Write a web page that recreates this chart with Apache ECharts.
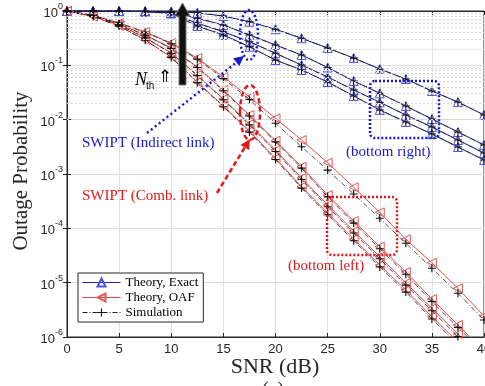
<!DOCTYPE html>
<html><head><meta charset="utf-8">
<script src="https://cdn.jsdelivr.net/npm/echarts@6/dist/echarts.min.js"></script>
<style>html,body{margin:0;padding:0;background:#fff}#c{width:485px;height:386px}</style>
</head><body><div id="c"></div>
<script>
// SNR grid (dB)
const snr = [0,2.5,5,7.5,10,12.5,15,17.5,20,22.5,25,27.5,30,32.5,35,37.5,40];
const xTicks = [0,5,10,15,20,25,30,35,40];
const legendNames = ['Theory, Exact','Theory, OAF','Simulation'];

// SWIPT indirect link, theory exact (4 values of N_th)
const exact1 = [1,0.999,0.998,0.99,0.979,0.927,0.809,0.635,0.461,0.315,0.208,0.136,0.0856,0.056,0.0337,0.0211,0.0122];
const exact2 = [1,0.999,0.997,0.985,0.946,0.734,0.552,0.362,0.237,0.155,0.0912,0.0515,0.0306,0.0178,0.0103,0.00593,0.00342];
const exact3 = [1,0.999,0.996,0.98,0.919,0.594,0.416,0.272,0.167,0.101,0.061,0.0352,0.0209,0.0122,0.00733,0.00422,0.00243];
const exact4 = [1,0.999,0.995,0.975,0.9,0.53,0.362,0.22,0.125,0.082,0.0493,0.0273,0.0151,0.00906,0.00545,0.00314,0.00181];

// SWIPT combined link, theory OAF
const oaf1 = [1,0.844,0.601,0.411,0.258,0.136,0.061,0.0261,0.0106,0.00422,0.00161,5.69e-4,1.97e-4,6.28e-5,2.33e-5,7.87e-6,2.43e-6];
const oaf2 = [1,0.826,0.576,0.3616,0.2084,0.0932,0.0351,0.01218,0.0041,0.00136,4.1e-4,1.36e-4,4.59e-5,1.57e-5,5.0e-6,1.66e-6,5.52e-7];
const oaf3 = [1,0.809,0.5525,0.3252,0.1686,0.0664,0.024,0.00832,0.00276,8.44e-4,2.69e-4,8.92e-5,3.0e-5,9.86e-6,3.37e-6,1.135e-6,3.77e-7];
const oaf4 = [1,0.792,0.53,0.2925,0.1423,0.0493,0.01784,0.00618,0.00195,5.83e-4,1.91e-4,6.36e-5,2.11e-5,7.33e-6,2.36e-6,8.09e-7,2.69e-7];

// Simulation
const simIndirect1 = [1,0.999,0.998,0.99,0.979,0.927,0.809,0.635,0.461,0.315,0.208,0.136,0.0856,0.056,0.0337,0.0211,0.0122];
const simIndirect2 = [1,0.999,0.997,0.985,0.946,0.734,0.552,0.362,0.237,0.155,0.0912,0.0515,0.0306,0.0178,0.0103,0.00593,0.00342];
const simIndirect3 = [1,0.999,0.996,0.98,0.919,0.594,0.416,0.272,0.167,0.101,0.061,0.0352,0.0209,0.0122,0.00733,0.00422,0.00243];
const simIndirect4 = [1,0.999,0.995,0.975,0.9,0.53,0.362,0.22,0.125,0.082,0.0493,0.0273,0.0151,0.00906,0.00545,0.00314,0.00181];
const simComb1 = [1,0.84,0.598,0.405,0.25,0.13,0.057,0.0235,0.00857,0.00318,0.00118,4.28e-4,1.53e-4,5.3e-5,1.84e-5,6.37e-6,2.06e-6];
const simComb2 = [1,0.826,0.574,0.358,0.205,0.091,0.034,0.0117,0.0039,0.00128,3.8e-4,1.25e-4,4.2e-5,1.43e-5,4.5e-6,1.5e-6,5.0e-7];
const simComb3 = [1,0.809,0.55,0.322,0.166,0.065,0.0233,0.008,0.0026,7.9e-4,2.5e-4,8.2e-5,2.75e-5,9.0e-6,3.05e-6,1.02e-6,3.4e-7];
const simComb4 = [1,0.792,0.528,0.29,0.14,0.048,0.0173,0.0059,0.00185,5.5e-4,1.78e-4,5.9e-5,1.95e-5,6.7e-6,2.15e-6,7.3e-7,2.4e-7];

const BLUE_LINE = '#22229e', BLUE_MK = '#5252d8';
const RED_LINE = '#e24848', RED_MK = '#e25a5a';
const PLUS = 'path://M-1.4,-10H1.4V-1.4H10V1.4H1.4V10H-1.4V1.4H-10V-1.4H-1.4Z';

function toPts(vals){ return snr.map((x,i)=>[x, vals[i]]); }
function exactSeries(vals){
  return {type:'line', name:legendNames[0], data:toPts(vals), symbol:'triangle', symbolSize:9,
    itemStyle:{color:'rgba(255,255,255,0)', borderColor:BLUE_MK, borderWidth:1},
    lineStyle:{color:BLUE_LINE, width:1}, z:3, emphasis:{disabled:true}};
}
function oafSeries(vals){
  return {type:'line', name:legendNames[1], data:toPts(vals), symbol:'triangle', symbolSize:9, symbolRotate:90,
    itemStyle:{color:'rgba(255,255,255,0)', borderColor:RED_MK, borderWidth:1},
    lineStyle:{color:RED_LINE, width:1}, z:3, emphasis:{disabled:true}};
}
function simSeries(vals){
  return {type:'line', name:legendNames[2], data:toPts(vals), symbol:PLUS, symbolSize:8,
    itemStyle:{color:'#111'},
    lineStyle:{color:'#222', width:0.8, type:[5,2,1,2]}, z:4, emphasis:{disabled:true}};
}

const minorVals = [];
for (let k=-6;k<0;k++){ for (let m=2;m<=9;m++){ minorVals.push(m*Math.pow(10,k)); } }

const series = [
  {type:'line', name:'minor', data:[], z:1, silent:true,
   markLine:{silent:true, animation:false, symbol:['none','none'], label:{show:false},
     lineStyle:{color:'#d6d6d6', type:[2,2], width:1}, emphasis:{disabled:true},
     data: minorVals.map(v=>({yAxis:v}))}},
  exactSeries(exact1), exactSeries(exact2), exactSeries(exact3), exactSeries(exact4),
  oafSeries(oaf1), oafSeries(oaf2), oafSeries(oaf3), oafSeries(oaf4),
  simSeries(simIndirect1), simSeries(simIndirect2), simSeries(simIndirect3), simSeries(simIndirect4),
  simSeries(simComb1), simSeries(simComb2), simSeries(simComb3), simSeries(simComb4)
];

const SERIF = '"Liberation Serif","Times New Roman",serif';
const SANS = '"Liberation Sans",Arial,sans-serif';
const AX = '#262626';
const TBLUE = '#1818cc', TRED = '#e01818';

const option = {
  animation:false,
  backgroundColor:'#fff',
  grid:{left:67, right:1, top:11, bottom:49, show:true, borderColor:AX, borderWidth:1, backgroundColor:'transparent',
        outerBoundsMode:'none', containLabel:false},
  legend:{data:legendNames, left:78, top:273, orient:'vertical', backgroundColor:'#fff',
    borderColor:AX, borderWidth:1, padding:[3,5,3,4], itemGap:2, itemWidth:38, itemHeight:10,
    lineStyle:{width:1},
    textStyle:{fontFamily:SERIF, fontSize:13, color:'#000'}, selectedMode:false},
  xAxis:[
    {type:'value', min:0, max:40, interval:5, position:'bottom',
     axisLine:{show:true, lineStyle:{color:AX}}, axisTick:{inside:true, length:4, lineStyle:{color:AX}},
     axisLabel:{fontFamily:SANS, fontSize:13, color:AX, margin:6, formatter:v=>String(v)},
     splitLine:{show:true, lineStyle:{color:'#e2e2e2'}}},
    {type:'value', min:0, max:40, interval:5, position:'top',
     axisLine:{show:true, lineStyle:{color:AX}}, axisTick:{inside:true, length:4, lineStyle:{color:AX}},
     axisLabel:{show:false}, splitLine:{show:false}}
  ],
  yAxis:[
    {type:'log', logBase:10, min:1e-6, max:1,
     axisLine:{show:true, lineStyle:{color:AX}}, axisTick:{inside:true, length:4, lineStyle:{color:AX}},
     axisLabel:{margin:4, formatter:function(v){ const e=Math.round(Math.log10(v)); return '{b|10}{s|'+e+'}'; },
       rich:{b:{fontFamily:SANS, fontSize:13, color:AX, verticalAlign:'bottom', lineHeight:18},
             s:{fontFamily:SANS, fontSize:9, color:AX, verticalAlign:'top', lineHeight:10}}},
     splitLine:{show:true, lineStyle:{color:'#dadada'}}},
    {type:'log', logBase:10, min:1e-6, max:1, position:'right',
     axisLine:{show:true, lineStyle:{color:AX}}, axisTick:{inside:true, length:4, lineStyle:{color:AX}},
     axisLabel:{show:false}, splitLine:{show:false}}
  ],
  series: series,
  graphic:[
    // N_th arrow
    {type:'polygon', z:100, shape:{points:[[179,85],[186,85],[186,16],[190,16],[182.5,3],[175,16],[179,16]]},
     style:{fill:'#111', stroke:'#777', lineWidth:1}},
    {type:'text', z:100, style:{text:'N', x:135, y:80, font:'italic 18px '+SERIF, fill:'#000', textVerticalAlign:'middle'}},
    {type:'text', z:100, style:{text:'th', x:146, y:86, font:'10px '+SANS, fill:'#000', textVerticalAlign:'middle'}},
    {type:'text', z:100, style:{text:'\u21D1', x:158, y:78, font:'17px "DejaVu Sans"', fill:'#000', textVerticalAlign:'middle'}},
    // blue ellipse + arrow
    {type:'ellipse', z:100, shape:{cx:249, cy:35, rx:9, ry:25}, style:{fill:'none', stroke:TBLUE, lineWidth:2.5, lineDash:[2,2.5]}},
    {type:'line', z:100, shape:{x1:147, y1:133, x2:237, y2:62}, style:{stroke:TBLUE, lineWidth:2.5, lineDash:[2,3]}},
    {type:'polygon', z:100, shape:{points:[[244,56],[239.3,66.1],[233.1,58.3]]}, style:{fill:TBLUE}},
    {type:'text', z:100, style:{text:'SWIPT (Indirect link)', x:82, y:143, font:'15px '+SERIF, fill:TBLUE, textVerticalAlign:'middle'}},
    // red ellipse + arrow
    {type:'ellipse', z:100, shape:{cx:250, cy:112.5, rx:10, ry:27.5}, style:{fill:'none', stroke:TRED, lineWidth:2.5, lineDash:[5,3]}},
    {type:'line', z:100, shape:{x1:217, y1:193, x2:245, y2:147}, style:{stroke:TRED, lineWidth:2.5, lineDash:[5,3]}},
    {type:'polygon', z:100, shape:{points:[[250,139],[249.1,150.1],[240.5,144.9]]}, style:{fill:TRED}},
    {type:'text', z:100, style:{text:'SWIPT (Comb. link)', x:82, y:196, font:'15px '+SERIF, fill:TRED, textVerticalAlign:'middle'}},
    // zoom boxes
    {type:'rect', z:100, shape:{x:370, y:81, width:69, height:57, r:5}, style:{fill:'none', stroke:TBLUE, lineWidth:2.5, lineDash:[2,2]}},
    {type:'text', z:100, style:{text:'(bottom right)', x:346, y:152, font:'15px '+SERIF, fill:TBLUE, textVerticalAlign:'middle'}},
    {type:'rect', z:100, shape:{x:327, y:197, width:70, height:58, r:5}, style:{fill:'none', stroke:TRED, lineWidth:2.5, lineDash:[2,2]}},
    {type:'text', z:100, style:{text:'(bottom left)', x:288, y:266, font:'15px '+SERIF, fill:TRED, textVerticalAlign:'middle'}},
    // axis titles
    {type:'text', z:100, style:{text:'SNR (dB)', x:275, y:367, font:'22px '+SERIF, fill:'#262626', textAlign:'center', textVerticalAlign:'middle'}},
    {type:'text', z:100, x:21, y:171, rotation:Math.PI/2, style:{text:'Outage Probability', x:0, y:0, font:'21px '+SERIF, fill:'#262626', textAlign:'center', textVerticalAlign:'middle'}},
    {type:'text', z:100, style:{text:'(a)', x:273, y:381, font:'20px '+SERIF, fill:'#262626', textAlign:'center', textVerticalAlign:'top'}}
  ]
};
const chart = echarts.init(document.getElementById('c'), null, {renderer:'canvas'});
chart.setOption(option);
</script></body></html>
